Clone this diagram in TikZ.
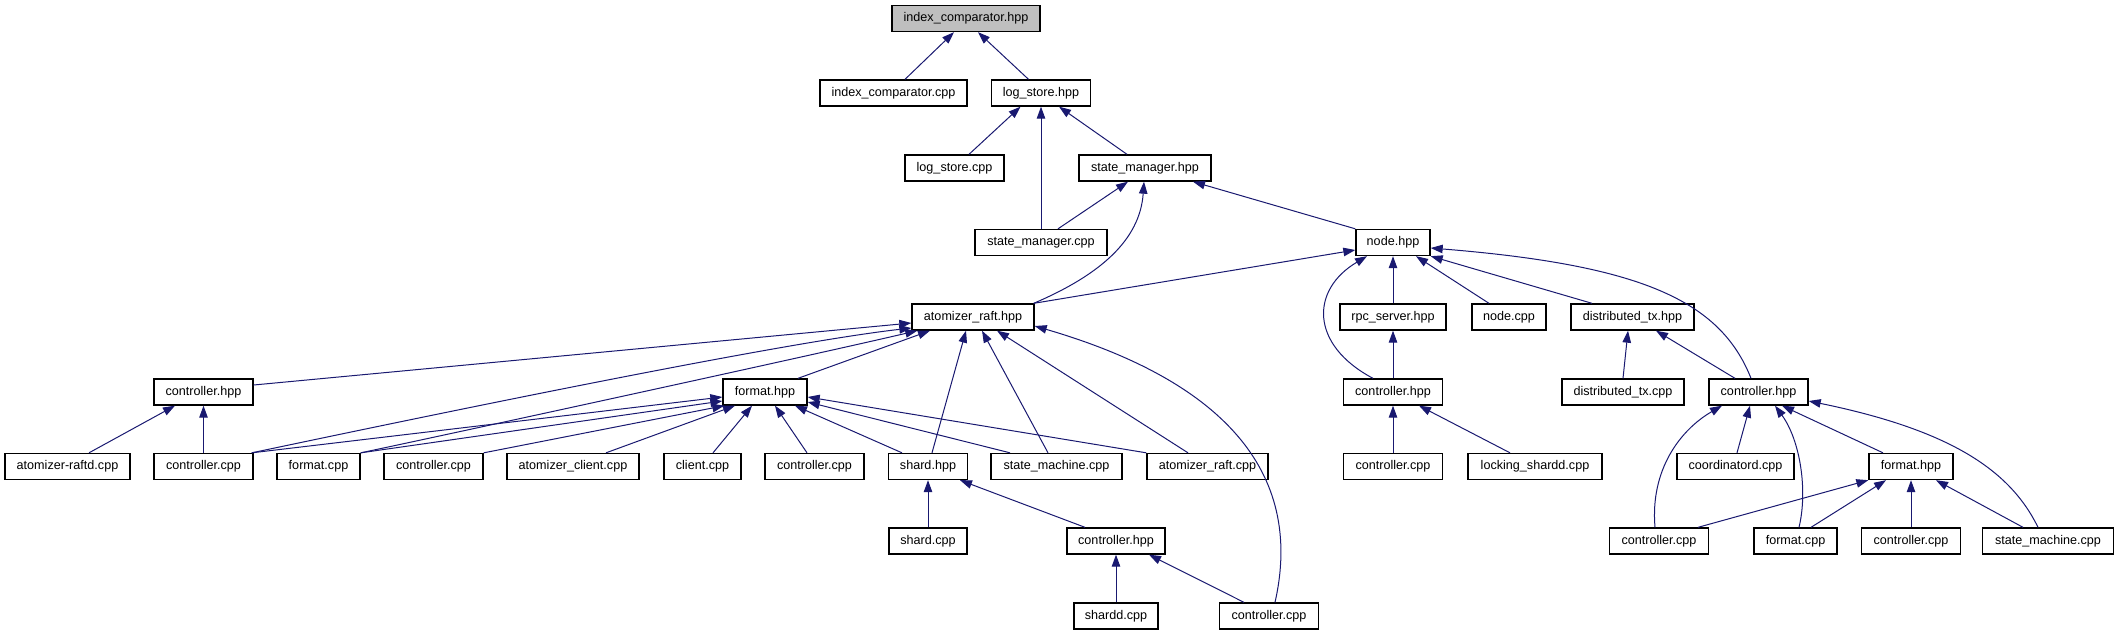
\documentclass[tikz,border=0pt]{standalone}
\usepackage{fontspec}
\setmainfont{Liberation Sans}
\usetikzlibrary{arrows.meta}
\definecolor{edgeblue}{HTML}{191970}
\definecolor{rootgray}{HTML}{BFBFBF}
\begin{document}
\begin{tikzpicture}[x=1pt,y=-1pt,
  box/.style={draw=black,line width=1.35pt,fill=white,minimum height=26pt,inner sep=0pt,font=\fontsize{12.6}{15}\selectfont},
  edge/.style={draw=edgeblue,line width=1pt,-{Triangle[length=12pt,width=8.5pt]}}]
\useasboundingbox (0,0) rectangle (2117,635);
% nodes
\node[box,fill=rootgray,minimum width=148pt] (ich) at (966,18.5) {index\_comparator.hpp};
\node[box,minimum width=147pt] (icc) at (893.5,93) {index\_comparator.cpp};
\node[box,minimum width=99pt] (lsh) at (1041,93) {log\_store.hpp};
\node[box,minimum width=99pt] (lsc) at (954.5,168) {log\_store.cpp};
\node[box,minimum width=132pt] (smh) at (1145,168) {state\_manager.hpp};
\node[box,minimum width=132pt] (smc) at (1041,242.5) {state\_manager.cpp};
\node[box,minimum width=74pt] (nodeh) at (1393,242.5) {node.hpp};
\node[box,minimum width=122pt] (arh) at (973,317) {atomizer\_raft.hpp};
\node[box,minimum width=106pt] (rpc) at (1393,317) {rpc\_server.hpp};
\node[box,minimum width=74pt] (nodecpp) at (1509,317) {node.cpp};
\node[box,minimum width=123pt] (dtxh) at (1632.5,317) {distributed\_tx.hpp};
\node[box,minimum width=99pt] (ctrlhL) at (203.5,392) {controller.hpp};
\node[box,minimum width=84pt] (fmth) at (765,392) {format.hpp};
\node[box,minimum width=99pt] (ctrlhM) at (1393,392) {controller.hpp};
\node[box,minimum width=122pt] (dtxc) at (1623,392) {distributed\_tx.cpp};
\node[box,minimum width=99pt] (ctrlhR) at (1758.5,392) {controller.hpp};
\node[box,minimum width=125pt] (arc) at (67.5,466.5) {atomizer-raftd.cpp};
\node[box,minimum width=99pt] (ctrlc1) at (203.5,466.5) {controller.cpp};
\node[box,minimum width=83pt] (fmtc1) at (318.5,466.5) {format.cpp};
\node[box,minimum width=99pt] (ctrlc2) at (433.5,466.5) {controller.cpp};
\node[box,minimum width=132pt] (acc) at (573,466.5) {atomizer\_client.cpp};
\node[box,minimum width=77pt] (clc) at (702.5,466.5) {client.cpp};
\node[box,minimum width=99pt] (ctrlc3) at (814.5,466.5) {controller.cpp};
\node[box,minimum width=79pt] (shh) at (928,466.5) {shard.hpp};
\node[box,minimum width=131pt] (smcp) at (1056.5,466.5) {state\_machine.cpp};
\node[box,minimum width=121pt] (arcp) at (1207.5,466.5) {atomizer\_raft.cpp};
\node[box,minimum width=99pt] (ctrlc4) at (1393,466.5) {controller.cpp};
\node[box,minimum width=134pt] (lsd) at (1535,466.5) {locking\_shardd.cpp};
\node[box,minimum width=117pt] (coord) at (1735.5,466.5) {coordinatord.cpp};
\node[box,minimum width=84pt] (fmthR) at (1911,466.5) {format.hpp};
\node[box,minimum width=78pt] (shc) at (928,541) {shard.cpp};
\node[box,minimum width=98pt] (ctrlhB) at (1116,541) {controller.hpp};
\node[box,minimum width=99pt] (ctrlc5) at (1659,541) {controller.cpp};
\node[box,minimum width=83pt] (fmtc2) at (1795.5,541) {format.cpp};
\node[box,minimum width=99pt] (ctrlc6) at (1911,541) {controller.cpp};
\node[box,minimum width=131pt] (smc2) at (2048,541) {state\_machine.cpp};
\node[box,minimum width=84pt] (sdc) at (1116,616) {shardd.cpp};
\node[box,minimum width=99pt] (ctrlc7) at (1269,616) {controller.cpp};
% edges
\draw[edge] ([xshift=11.5pt]icc.north) -- ([xshift=-12pt]ich.south);
\draw[edge] ([xshift=-12.5pt]lsh.north) -- ([xshift=12pt]ich.south);
\draw[edge] ([xshift=14.5pt]lsc.north) -- ([xshift=-20.5pt]lsh.south);
\draw[edge] (smc.north) -- (lsh.south);
\draw[edge] ([xshift=-18pt]smh.north) -- ([xshift=18pt]lsh.south);
\draw[edge] ([xshift=17pt]smc.north) -- ([xshift=-17pt]smh.south);
\draw[edge] ([xshift=-1pt]arh.north east) .. controls (1100,275) and (1140,240) .. ([xshift=-1pt]smh.south);
\draw[edge] (nodeh.north west) -- ([xshift=48pt]smh.south);
\draw[edge] ([xshift=-1pt]arh.north east) -- ([yshift=-7.5pt]nodeh.west);
\draw[edge] (rpc.north) -- (nodeh.south);
\draw[edge] ([xshift=-20pt]ctrlhM.north) .. controls (1310,345) and (1310,290) .. ([xshift=-26pt]nodeh.south);
\draw[edge] ([xshift=-20pt]nodecpp.north) -- ([xshift=23pt]nodeh.south);
\draw[edge] ([xshift=-40.5pt]dtxh.north) -- (nodeh.south east);
\draw[edge] ([xshift=-7.5pt]ctrlhR.north) .. controls (1720,300) and (1640,265) .. ([yshift=-5.5pt]nodeh.east);
\draw[edge] (ctrlhM.north) -- (rpc.south);
\draw[edge] (dtxc.north) -- ([xshift=-4.5pt]dtxh.south);
\draw[edge] ([xshift=-23.5pt]ctrlhR.north) -- ([xshift=23.5pt]dtxh.south);
\draw[edge] (ctrlc4.north) -- (ctrlhM.south);
\draw[edge] ([xshift=-25pt]lsd.north) -- ([xshift=26pt]ctrlhM.south);
\draw[edge] ([xshift=-4pt]ctrlc5.north) .. controls (1650,470) and (1680,430) .. ([xshift=-36.5pt]ctrlhR.south);
\draw[edge] ([xshift=1.5pt]coord.north) -- ([xshift=-8.5pt]ctrlhR.south);
\draw[edge] ([xshift=3.5pt]fmtc2.north) .. controls (1808,490) and (1800,440) .. ([xshift=16.5pt]ctrlhR.south);
\draw[edge] ([xshift=-28pt]fmthR.north) -- ([xshift=23.5pt]ctrlhR.south);
\draw[edge] ([xshift=-10pt]smc2.north) .. controls (2010,470) and (1950,430) .. ([yshift=-9pt]ctrlhR.east);
\draw[edge] ([xshift=39pt]ctrlc5.north) -- (fmthR.south west);
\draw[edge] ([xshift=15.5pt]fmtc2.north) -- ([xshift=-25pt]fmthR.south);
\draw[edge] (ctrlc6.north) -- (fmthR.south);
\draw[edge] ([xshift=-25pt]smc2.north) -- ([xshift=25pt]fmthR.south);
% left part
\draw[edge] ([yshift=7pt]ctrlhL.east) -- ([yshift=-6pt]arh.west);
\draw[edge] ([xshift=-2pt]ctrlc1.north east) .. controls (351,432) and (762,345) .. ([yshift=-11pt]arh.west);
\draw[edge] (fmtc1.north east) .. controls (450,434) and (800,358) .. ([xshift=6pt]arh.south west);
\draw[edge] ([xshift=33pt]fmth.north) -- ([xshift=-43pt]arh.south);
\draw[edge] ([xshift=4pt]shh.north) -- ([xshift=-7pt]arh.south);
\draw[edge] ([xshift=-8.5pt]smcp.north) -- ([xshift=9pt]arh.south);
\draw[edge] ([xshift=-19.5pt]arcp.north) -- ([xshift=24pt]arh.south);
\draw[edge] ([xshift=6pt]ctrlc7.north) .. controls (1305,470) and (1220,380) .. ([yshift=-9pt]arh.east);
\draw[edge] ([xshift=21.5pt]arc.north) -- ([xshift=-28.5pt]ctrlhL.south);
\draw[edge] (ctrlc1.north) -- (ctrlhL.south);
\draw[edge] ([xshift=-2pt]ctrlc1.north east) -- ([yshift=-5pt]fmth.west);
\draw[edge] (fmtc1.north east) -- ([yshift=-9pt]fmth.west);
\draw[edge] (ctrlc2.north east) -- ([xshift=2pt]fmth.south west);
\draw[edge] ([xshift=33pt]acc.north) -- ([xshift=-30pt]fmth.south);
\draw[edge] ([xshift=10.5pt]clc.north) -- ([xshift=-13pt]fmth.south);
\draw[edge] ([xshift=-7.5pt]ctrlc3.north) -- ([xshift=10pt]fmth.south);
\draw[edge] ([xshift=-26pt]shh.north) -- ([xshift=30pt]fmth.south);
\draw[edge] ([xshift=-46.5pt]smcp.north) -- ([yshift=-10pt]fmth.east);
\draw[edge] (arcp.north west) -- ([yshift=-5pt]fmth.east);
\draw[edge] (shc.north) -- (shh.south);
\draw[edge] ([xshift=-31pt]ctrlhB.north) -- ([xshift=32pt]shh.south);
\draw[edge] (sdc.north) -- (ctrlhB.south);
\draw[edge] ([xshift=-25pt]ctrlc7.north) -- ([xshift=33pt]ctrlhB.south);
\end{tikzpicture}
\end{document}
